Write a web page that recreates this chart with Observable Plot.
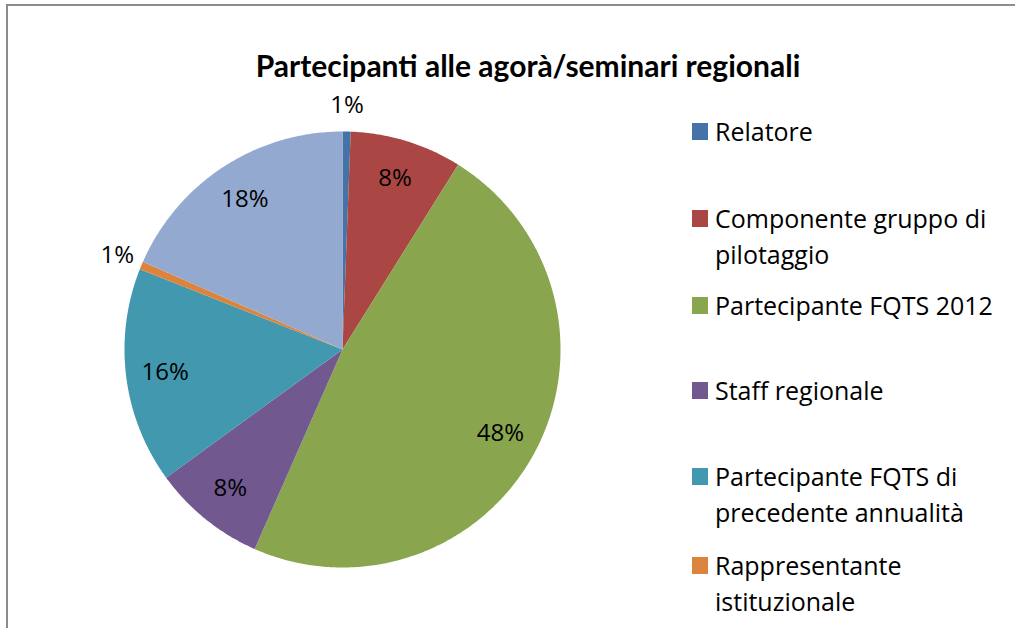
<!DOCTYPE html>
<html>
<head>
<meta charset="utf-8">
<script src="https://cdn.jsdelivr.net/npm/d3@7"></script>
<script src="https://cdn.jsdelivr.net/npm/@observablehq/plot@0.6"></script>
<style>
  html, body { margin: 0; padding: 0; background: #fff; }
  #wrap { position: relative; width: 1015px; height: 628px; overflow: hidden; font-family: "Open Sans", Lato, sans-serif; }
  #frame { position: absolute; left: 6px; top: 4px; width: 1020px; height: 640px; border-left: 2px solid #8c8c8c; border-top: 2px solid #8c8c8c; box-sizing: border-box; }
  #title { position: absolute; left: 0; width: 1056px; top: 47px; line-height: 36px; text-align: center; font-family: Lato, sans-serif; font-weight: bold; font-size: 30px; color: #000; }
  #chart { position: absolute; left: 0; top: 0; }
  .leg { position: absolute; left: 692px; font-size: 25px; line-height: 36px; color: #000; white-space: nowrap; }
  .leg .sw { position: absolute; left: 0; top: 10px; width: 16px; height: 17px; }
  .leg .tx { margin-left: 23px; }
</style>
</head>
<body>
<div id="wrap">
  <div id="frame"></div>
  <div id="chart"></div>
  <div id="title"></div>
  <div id="legend"></div>
</div>
<script>
const title = "Partecipanti alle agorà/seminari regionali";
const categories = [
  "Relatore",
  "Componente gruppo di pilotaggio",
  "Partecipante FQTS 2012",
  "Staff regionale",
  "Partecipante FQTS di precedente annualità",
  "Rappresentante istituzionale",
  "Altro"
];
const legendLines = [
  ["Relatore"],
  ["Componente gruppo di", "pilotaggio"],
  ["Partecipante FQTS 2012"],
  ["Staff regionale"],
  ["Partecipante FQTS di", "precedente annualità"],
  ["Rappresentante", "istituzionale"]
];
const values = [0.6, 8.3, 47.7, 8.4, 16.0, 0.6, 18.4];
const colors = ["#4572A7", "#AA4643", "#89A54E", "#71588F", "#4198AF", "#DB843D", "#93A9CF"];

document.getElementById("title").textContent = title;

const total = d3.sum(values);
const arcs = d3.pie().sort(null).value(d => d)(values);

// slice polygons in data units (unit circle), angle clockwise from 12 o'clock
const slicePts = [];
arcs.forEach((a, i) => {
  const n = Math.max(2, Math.ceil((a.endAngle - a.startAngle) / 0.01));
  slicePts.push({cat: categories[i], x: 0, y: 0});
  for (let k = 0; k <= n; k++) {
    const t = a.startAngle + (a.endAngle - a.startAngle) * k / n;
    slicePts.push({cat: categories[i], x: Math.sin(t), y: Math.cos(t)});
  }
});

const labels = arcs.map((a, i) => {
  const share = values[i] / total;
  const mid = (a.startAngle + a.endAngle) / 2;
  const r = share < 0.02 ? 1.12 : 0.82;
  return {cat: categories[i], x: r * Math.sin(mid), y: r * Math.cos(mid), text: Math.max(1, Math.round(share * 100)) + "%"};
});

const W = 1015, H = 628, cx = 342, cy = 349, R = 218;
const chart = Plot.plot({
  width: W, height: H,
  margin: 0,
  x: {domain: [-cx / R, (W - cx) / R], axis: null},
  y: {domain: [-(H - cy) / R, cy / R], axis: null},
  color: {domain: categories, range: colors},
  style: {background: "transparent", fontFamily: "'Open Sans', Lato, sans-serif"},
  marks: [
    Plot.line(slicePts, {x: "x", y: "y", z: "cat", fill: "cat", stroke: null, curve: "linear-closed"}),
    Plot.text(labels, {x: "x", y: "y", text: "text", fontSize: 24, fill: "#000"})
  ]
});
document.getElementById("chart").appendChild(chart);

const legendTops = [113, 200, 287, 372, 458, 547];
const leg = document.getElementById("legend");
legendLines.forEach((lines, i) => {
  const d = document.createElement("div");
  d.className = "leg";
  d.style.top = legendTops[i] + "px";
  const sw = document.createElement("div");
  sw.className = "sw";
  sw.style.background = colors[i];
  d.appendChild(sw);
  const tx = document.createElement("div");
  tx.className = "tx";
  tx.innerHTML = lines.join("<br>");
  d.appendChild(tx);
  leg.appendChild(d);
});
</script>
</body>
</html>
